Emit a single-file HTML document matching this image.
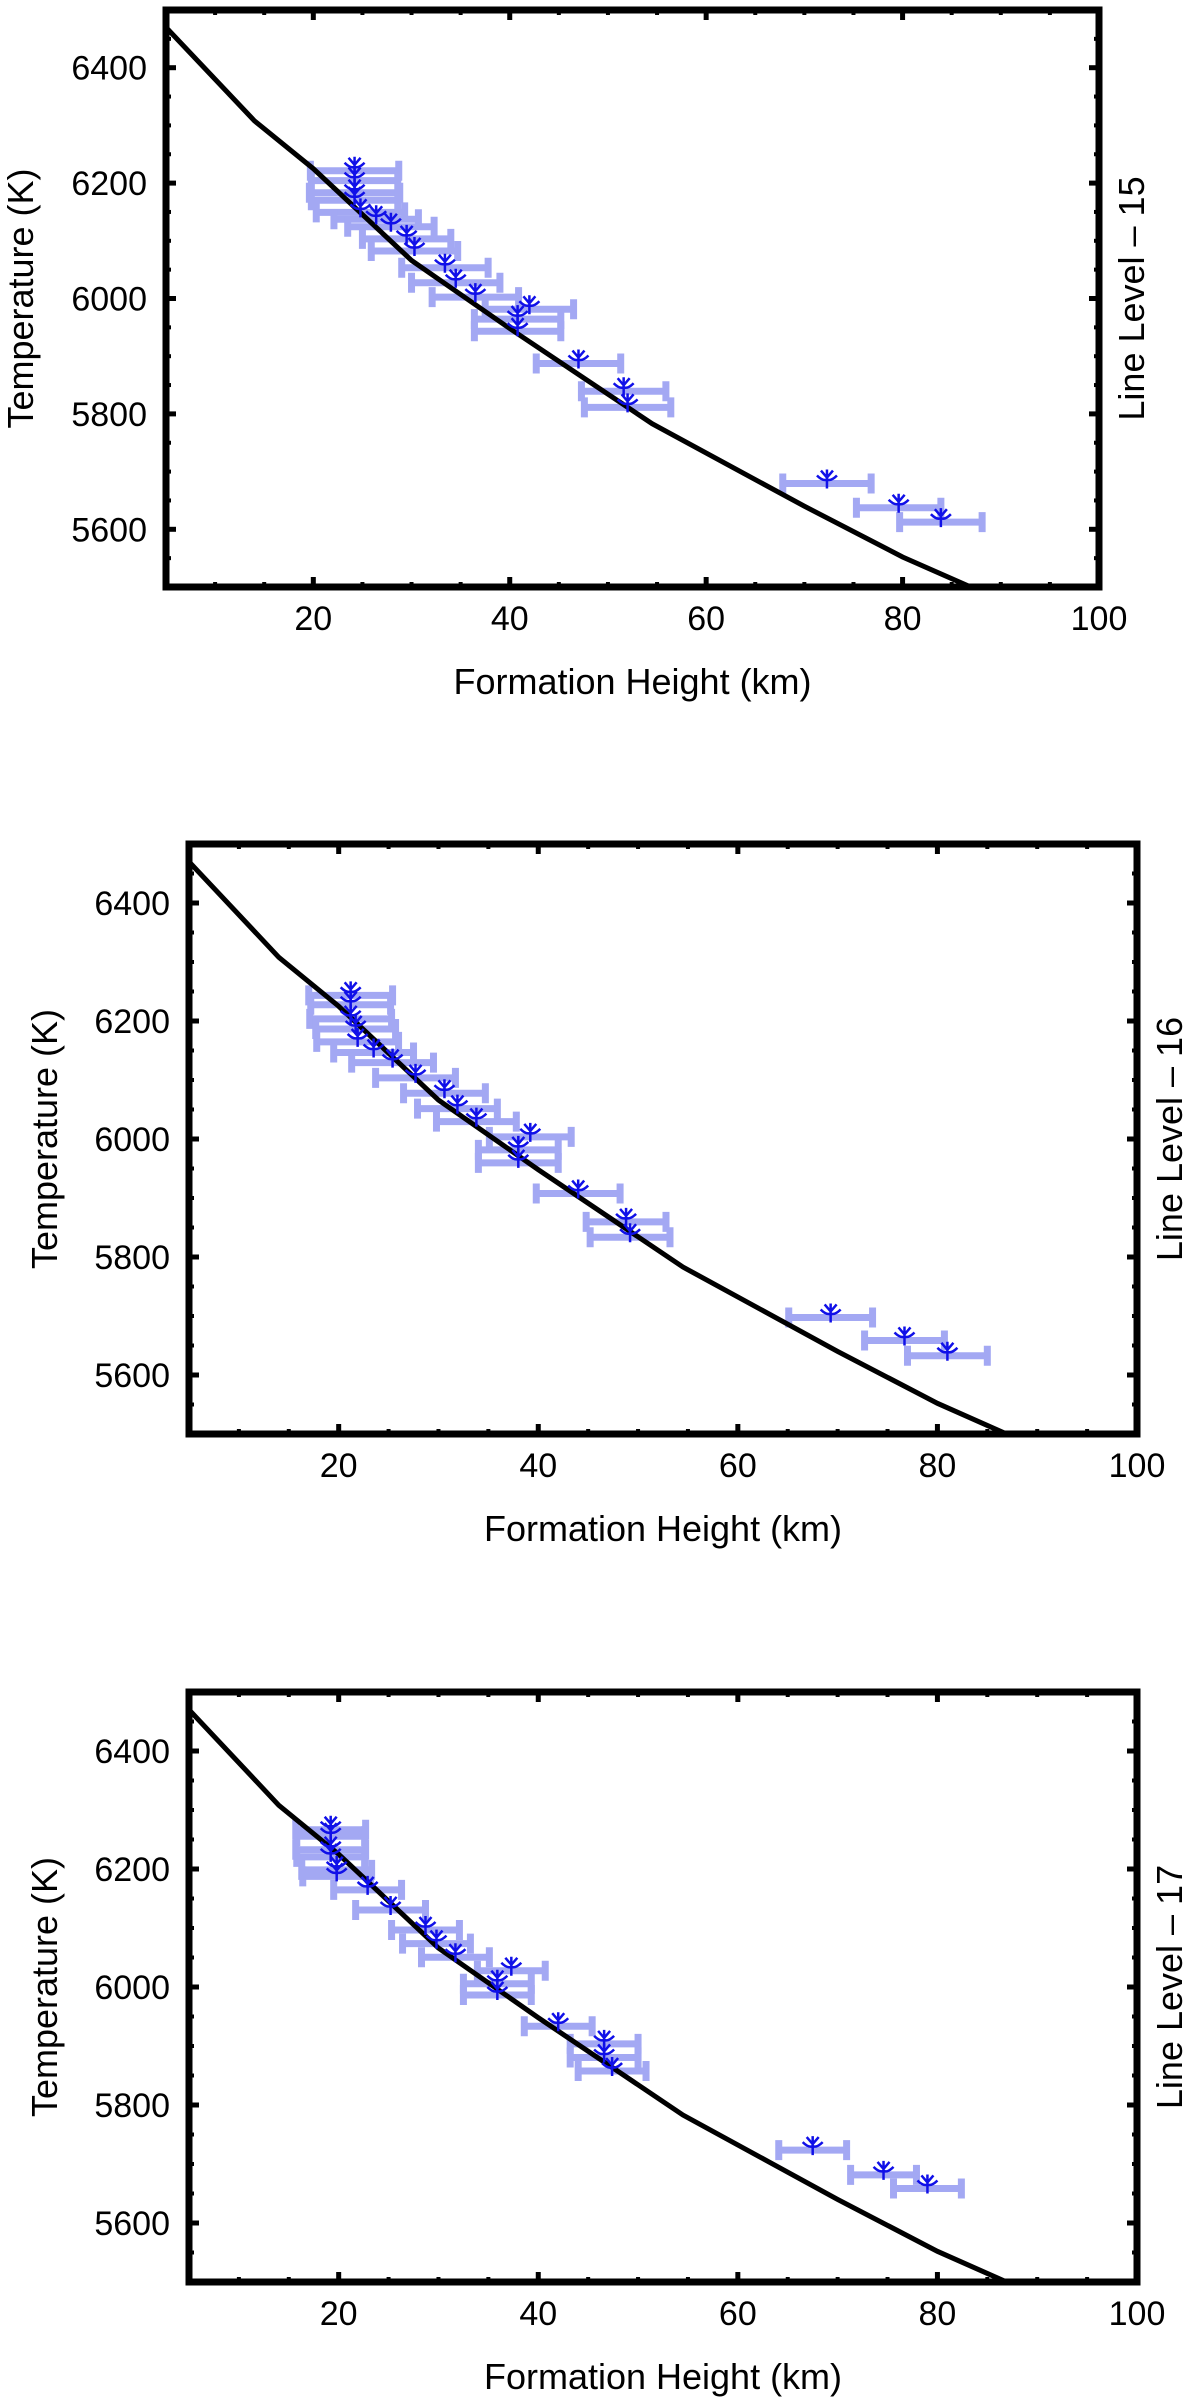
<!DOCTYPE html>
<html><head><meta charset="utf-8">
<style>
html,body{margin:0;padding:0;background:#fff;}
svg{display:block;font-family:"Liberation Sans",Arial,sans-serif;}
</style></head>
<body>
<svg id="chart" width="1200" height="2400" viewBox="0 0 1200 2400" xmlns="http://www.w3.org/2000/svg"></svg>
<script>
// ---- data ----
const xTicks = [20, 40, 60, 80, 100];
const yTicks = [5600, 5800, 6000, 6200, 6400];
const modelH = [5, 14, 20, 30, 40, 54.5, 70, 80, 88];
const modelT = [6470, 6308, 6225, 6066, 5948, 5783, 5640, 5552, 5492];
const p1H = [24.2,24.2,24.2,24.2,24.8,26.4,27.9,29.5,30.3,33.4,34.5,36.5,42.0,40.8,40.8,47.0,51.6,52.0,72.3,79.6,83.9];
const p1T = [6230,6213,6192,6179,6158,6146,6133,6112,6091,6062,6036,6011,5990,5973,5952,5896,5848,5820,5688,5646,5621];
const p1E = [4.5,4.4,4.6,4.4,4.5,4.3,4.4,4.5,4.4,4.4,4.5,4.4,4.5,4.4,4.4,4.3,4.3,4.4,4.5,4.3,4.2];
const p2H = [21.2,21.2,21.2,21.7,21.9,23.5,25.4,27.7,30.6,31.9,33.8,39.2,38.0,38.0,44.0,48.8,49.2,69.3,76.7,81.0];
const p2T = [6252,6236,6212,6195,6173,6155,6138,6112,6086,6060,6038,6012,5990,5968,5916,5868,5842,5706,5667,5641];
const p2E = [4.2,4.0,4.1,4.0,4.1,4.0,4.1,4.0,4.1,4.0,4.0,4.1,4.0,4.0,4.2,4.0,4.0,4.2,4.0,4.0];
const p3H = [19.2,19.2,19.2,19.2,19.8,19.8,22.9,25.2,28.7,29.8,31.7,37.3,35.9,35.9,42.0,46.6,46.6,47.4,67.5,74.6,79.0];
const p3T = [6275,6264,6241,6229,6207,6196,6173,6139,6105,6082,6059,6036,6014,5995,5942,5912,5889,5866,5732,5690,5667];
const p3E = [3.5,3.4,3.5,3.4,3.5,3.4,3.4,3.5,3.4,3.4,3.4,3.4,3.4,3.4,3.4,3.4,3.4,3.4,3.4,3.3,3.4];
const panelLabels = ["Line Level \u2013 15", "Line Level \u2013 16", "Line Level \u2013 17"];

const NS = "http://www.w3.org/2000/svg";
const svg = document.getElementById("chart");
function mk(tag, attrs, parent){ const e=document.createElementNS(NS,tag); for(const k in attrs) e.setAttribute(k,attrs[k]); (parent||svg).appendChild(e); return e; }

const panels = [
  {L:166,R:1099,T:10,B:587,H:p1H,Tv:p1T,E:p1E,ytx:20,rtx:1131},
  {L:189,R:1137,T:844,B:1434,H:p2H,Tv:p2T,E:p2E,ytx:44,rtx:1169},
  {L:189,R:1137,T:1692,B:2282,H:p3H,Tv:p3T,E:p3E,ytx:44,rtx:1169}
];

panels.forEach((p, idx) => {
  const g = mk("g", {});
  
  
  const sx = v => p.L + (v - 5) / 95 * (p.R - p.L);
  const sy = v => p.B - (v - 5500) / 1000 * (p.B - p.T);
  const cid = "clip" + idx;
  const cp = mk("clipPath", {id: cid}, g);
  mk("rect", {x:p.L, y:p.T, width:p.R-p.L, height:p.B-p.T}, cp);

  const eg = mk("g", {"clip-path":"url(#"+cid+")"}, g);
  
  
  for (let i=0;i<p.H.length;i++){
    const y = sy(p.Tv[i]) + 5, x1 = sx(p.H[i]-p.E[i]), x2 = sx(p.H[i]+p.E[i]);
    const bar = mk("path", {d:`M${x1},${y}H${x2}M${x1},${y-10}V${y+10}M${x2},${y-10}V${y+10}`, stroke:"#a3a8f3", "stroke-width":7, fill:"none"}, eg);
    
    
  }
  let d = "";
  modelH.forEach((h,i)=>{ d += (i?"L":"M") + sx(h) + "," + sy(modelT[i]); });
  const curve = mk("path", {d:d, stroke:"#000", "stroke-width":5, fill:"none", "clip-path":"url(#"+cid+")"}, g);
  
  
  for (let i=0;i<p.H.length;i++){
    const x = sx(p.H[i]), y = sy(p.Tv[i]);
    const m = mk("path", {d:`M${x},${y-9}V${y+10}M${x-10},${y-3}Q${x-4},${y+3} ${x},${y+1}Q${x+4},${y+3} ${x+10},${y-3}M${x-6},${y-8}L${x},${y-1}L${x+6},${y-8}`, stroke:"#1010e8", "stroke-width":2.5, fill:"none"}, g);
    
    
  }
  const tk = mk("g", {stroke:"#000"}, g);
  
  
  for (let v=5; v<=100; v+=5){
    const x = sx(v), maj = v%20===0, len = maj?10:5, w = maj?5:4;
    mk("line",{x1:x,x2:x,y1:p.B,y2:p.B-len,"stroke-width":w},tk);
    mk("line",{x1:x,x2:x,y1:p.T,y2:p.T+len,"stroke-width":w},tk);
  }
  for (let v=5500; v<=6500; v+=50){
    const y = sy(v), maj = v%200===0, len = maj?10:5, w = maj?5:4;
    mk("line",{x1:p.L,x2:p.L+len,y1:y,y2:y,"stroke-width":w},tk);
    mk("line",{x1:p.R,x2:p.R-len,y1:y,y2:y,"stroke-width":w},tk);
  }
  const fr = mk("rect", {x:p.L, y:p.T, width:p.R-p.L, height:p.B-p.T, fill:"none", stroke:"#000", "stroke-width":7}, g);
  
  
  xTicks.forEach(v=>{
    const t = mk("text",{x:sx(v), y:p.B+43, "text-anchor":"middle", "font-size":34}, g);
    t.textContent = v;
    
    
  });
  yTicks.forEach(v=>{
    const t = mk("text",{x:p.L-19, y:sy(v)+12, "text-anchor":"end", "font-size":34}, g);
    t.textContent = v;
    
    
  });
  const cx = (p.L+p.R)/2, cy = (p.T+p.B)/2;
  const xt = mk("text",{x:cx, y:p.B+107, "text-anchor":"middle", "font-size":36}, g);
  xt.textContent = "Formation Height (km)";
  
  
  const yt = mk("text",{x:0, y:0, "text-anchor":"middle", "font-size":36, transform:`translate(${p.ytx+13},${cy}) rotate(-90)`}, g);
  yt.textContent = "Temperature (K)";
  
  
  const rt = mk("text",{x:0, y:0, "text-anchor":"middle", "font-size":36, transform:`translate(${p.rtx+13},${cy}) rotate(-90)`}, g);
  rt.textContent = panelLabels[idx];
  
  
});
</script>
</body></html>
